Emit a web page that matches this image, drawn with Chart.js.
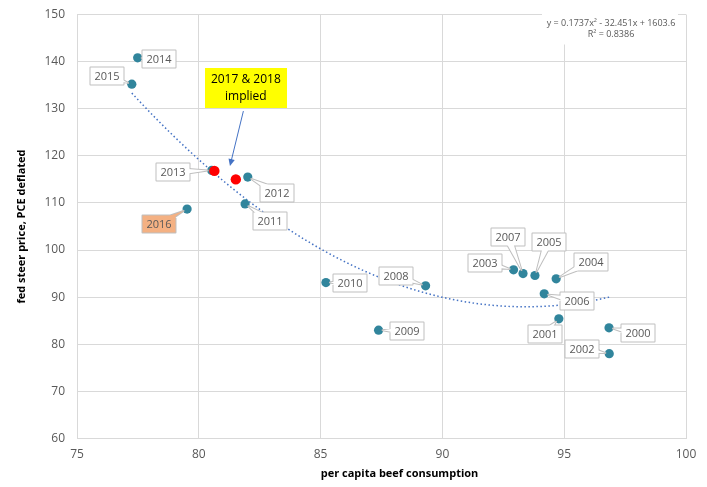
<!DOCTYPE html>
<html>
<head>
<meta charset="utf-8">
<script src="https://cdn.jsdelivr.net/npm/chart.js@4.4.1/dist/chart.umd.min.js"></script>
<style>
  html, body { margin: 0; padding: 0; background: #ffffff; }
  #wrap { width: 707px; height: 487px; }
</style>
</head>
<body>
<div id="wrap"><canvas id="chart" width="707" height="487"></canvas></div>
<script>
// Per capita beef consumption vs. deflated fed steer price, 2000–2016
const years = [2000, 2001, 2002, 2003, 2004, 2005, 2006, 2007, 2008,
               2009, 2010, 2011, 2012, 2013, 2014, 2015, 2016];
const beefConsumption = [96.84, 94.78, 96.85, 92.92, 94.67, 93.80, 94.18, 93.31, 89.31,
                         87.38, 85.22, 81.90, 82.01, 80.53, 77.49, 77.25, 79.52];
const steerPrice = [83.5, 85.4, 78.0, 95.8, 93.9, 94.6, 90.7, 95.0, 92.4,
                    83.0, 93.1, 109.8, 115.5, 116.9, 140.8, 135.2, 108.7];

// 2017 & 2018 implied values
const impliedConsumption = [80.64, 81.52];
const impliedPrice = [116.8, 115.0];

// Polynomial trendline (order 2) as reported on the chart
const trendA = 0.1737;
const trendB = -32.451;
const trendC = 1603.6;
const rSquared = 0.8386;

const xAxisMin = 75, xAxisMax = 100, xAxisStep = 5;
const yAxisMin = 60, yAxisMax = 150, yAxisStep = 10;

const xTitle = 'per capita beef consumption';
const yTitle = 'fed steer price, PCE deflated';
const noteLines = ['2017 & 2018', 'implied'];
const highlightYear = 2016;

// Trend curve sampled across the observed consumption range
const trendX0 = Math.min(...beefConsumption);
const trendX1 = Math.max(...beefConsumption);
const trendPoints = [];
for (let i = 0; i <= 80; i++) {
  const x = trendX0 + (trendX1 - trendX0) * i / 80;
  trendPoints.push({ x: x, y: trendA * x * x + trendB * x + trendC });
}

// Label callout placement: offset of the box centre from its marker, in px
const calloutOffset = {
  2000: [28.5, 5], 2001: [-14.5, 14.7], 2002: [-27.3, -5], 2003: [-29, -7],
  2004: [34, -17.4], 2005: [13.3, -34], 2006: [32.3, 7], 2007: [-16, -37.5],
  2008: [-30.3, -10.7], 2009: [28.4, 0.5], 2010: [24, 0], 2011: [24.7, 17],
  2012: [28.8, 15], 2013: [-39.4, 1.3], 2014: [21.2, 0.5], 2015: [-25.4, -9],
  2016: [-29, 14.7]
};

const FONT = '"Open Sans", "Liberation Sans", sans-serif';
const GRID = '#D9D9D9';
const TEXT = '#595959';

function drawCallout(ctx, px, py, cx, cy, text, fill) {
  ctx.save();
  ctx.font = '11px ' + FONT;
  const w = Math.round(ctx.measureText(text).width + 8);
  const h = 17;
  const left = Math.round(cx - w / 2) + 0.5;
  const top = Math.round(cy - h / 2) + 0.5;
  const dx = cx - px, dy = cy - py;
  const d = Math.hypot(dx, dy) || 1;
  const tipX = px + dx / d * 4, tipY = py + dy / d * 4;
  const nx = -dy / d, ny = dx / d, bw = 4;
  const wedge = () => {
    ctx.moveTo(cx + nx * bw, cy + ny * bw);
    ctx.lineTo(tipX, tipY);
    ctx.lineTo(cx - nx * bw, cy - ny * bw);
    ctx.closePath();
  };
  ctx.lineJoin = 'round';
  ctx.strokeStyle = '#BFBFBF';
  ctx.lineWidth = 2;
  ctx.beginPath();
  ctx.rect(left, top, w, h);
  wedge();
  ctx.stroke();
  ctx.fillStyle = fill;
  ctx.beginPath();
  ctx.rect(left, top, w, h);
  ctx.fill();
  ctx.beginPath();
  wedge();
  ctx.fill();
  ctx.fillStyle = TEXT;
  ctx.textAlign = 'center';
  ctx.textBaseline = 'middle';
  ctx.fillText(text, left + w / 2, top + h / 2 + 0.5);
  ctx.restore();
}

const annotationsPlugin = {
  id: 'annotations',
  afterDatasetsDraw(chart) {
    const ctx = chart.ctx;
    const xs = chart.scales.x, ys = chart.scales.y;
    const area = chart.chartArea;

    // Year callouts
    const meta = chart.getDatasetMeta(1);
    meta.data.forEach((pt, i) => {
      const yr = years[i];
      const off = calloutOffset[yr];
      drawCallout(ctx, pt.x, pt.y, pt.x + off[0], pt.y + off[1], String(yr),
                  yr === highlightYear ? '#F4B183' : '#FFFFFF');
    });

    // Yellow note with arrow pointing to the implied points
    ctx.save();
    const bx = xs.getPixelForValue(81.93), by = ys.getPixelForValue(134.5);
    const bw = 82, bh = 40;
    ctx.fillStyle = '#FFFF00';
    ctx.fillRect(Math.round(bx - bw / 2), Math.round(by - bh / 2), bw, bh);
    ctx.fillStyle = '#000000';
    ctx.font = '12px ' + FONT;
    ctx.textAlign = 'center';
    ctx.textBaseline = 'middle';
    ctx.fillText(noteLines[0], bx, by - 8);
    ctx.fillText(noteLines[1], bx, by + 9);

    const ax0 = xs.getPixelForValue(81.83), ay0 = ys.getPixelForValue(129.5);
    const ax1 = xs.getPixelForValue(81.28), ay1 = ys.getPixelForValue(117.85);
    const ang = Math.atan2(ay1 - ay0, ax1 - ax0);
    ctx.strokeStyle = '#4472C4';
    ctx.fillStyle = '#4472C4';
    ctx.lineWidth = 1;
    ctx.beginPath();
    ctx.moveTo(ax0, ay0);
    ctx.lineTo(ax1 - Math.cos(ang) * 5, ay1 - Math.sin(ang) * 5);
    ctx.stroke();
    ctx.beginPath();
    ctx.moveTo(ax1, ay1);
    ctx.lineTo(ax1 - Math.cos(ang) * 7 + Math.sin(ang) * 3.2, ay1 - Math.sin(ang) * 7 - Math.cos(ang) * 3.2);
    ctx.lineTo(ax1 - Math.cos(ang) * 7 - Math.sin(ang) * 3.2, ay1 - Math.sin(ang) * 7 + Math.cos(ang) * 3.2);
    ctx.closePath();
    ctx.fill();
    ctx.restore();

    // Trendline equation
    ctx.save();
    ctx.fillStyle = '#FFFFFF';
    ctx.fillRect(area.right - 144, area.top - 4, 136, 34);
    ctx.fillStyle = TEXT;
    ctx.font = '9px ' + FONT;
    ctx.textAlign = 'center';
    ctx.textBaseline = 'middle';
    const ex = area.right - 75;
    ctx.fillText('y = ' + trendA + 'x\u00B2 - ' + Math.abs(trendB) + 'x + ' + trendC, ex, area.top + 9);
    ctx.fillText('R\u00B2 = ' + rSquared, ex, area.top + 20);
    ctx.restore();

    // Axis titles
    ctx.save();
    ctx.fillStyle = '#000000';
    ctx.font = 'bold 11px ' + FONT;
    ctx.textAlign = 'center';
    ctx.textBaseline = 'middle';
    ctx.fillText(xTitle, (area.left + area.right) / 2 + 18, area.bottom + 35);
    ctx.translate(22, (area.top + area.bottom) / 2);
    ctx.rotate(-Math.PI / 2);
    ctx.fillText(yTitle, 0, 0);
    ctx.restore();
  }
};

new Chart(document.getElementById('chart'), {
  type: 'scatter',
  data: {
    datasets: [
      {
        label: 'Trend',
        data: trendPoints,
        showLine: true,
        borderColor: '#4472C4',
        borderWidth: 1.5,
        borderDash: [1.5, 2.5],
        pointRadius: 0,
        fill: false,
        tension: 0,
        order: 3
      },
      {
        label: 'Observed',
        data: years.map((y, i) => ({ x: beefConsumption[i], y: steerPrice[i] })),
        backgroundColor: '#31859C',
        borderWidth: 0,
        pointRadius: 4.6,
        order: 2
      },
      {
        label: 'Implied',
        data: impliedConsumption.map((x, i) => ({ x: x, y: impliedPrice[i] })),
        backgroundColor: '#FF0000',
        borderWidth: 0,
        pointRadius: 5.2,
        order: 1
      }
    ]
  },
  options: {
    responsive: false,
    animation: false,
    events: [],
    layout: { padding: { top: 14.5, right: 21, left: 0, bottom: 0 } },
    plugins: { legend: { display: false }, tooltip: { enabled: false } },
    scales: {
      x: {
        type: 'linear',
        min: xAxisMin, max: xAxisMax,
        afterFit(scale) {
          scale.height = 48.5;
          scale.paddingLeft = 0; scale.paddingRight = 0;
        },
        ticks: { stepSize: xAxisStep, color: TEXT, font: { family: FONT, size: 12 }, padding: 9, maxRotation: 0 },
        grid: { color: GRID, lineWidth: 1, drawTicks: false },
        border: { color: GRID }
      },
      y: {
        type: 'linear',
        min: yAxisMin, max: yAxisMax,
        afterFit(scale) {
          scale.width = 77;
          scale.paddingTop = 0; scale.paddingBottom = 0;
        },
        ticks: { stepSize: yAxisStep, color: TEXT, font: { family: FONT, size: 12 }, padding: 12 },
        grid: { color: GRID, lineWidth: 1, drawTicks: false },
        border: { color: GRID }
      }
    }
  },
  plugins: [annotationsPlugin]
});
</script>
</body>
</html>
